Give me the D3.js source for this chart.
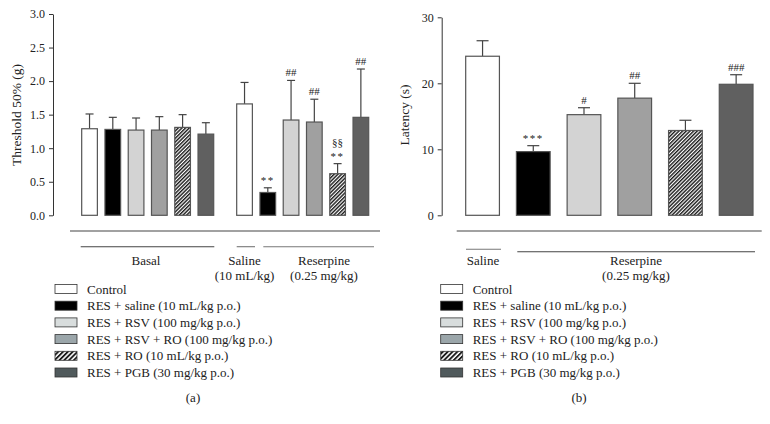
<!DOCTYPE html>
<html><head><meta charset="utf-8">
<script src="https://cdn.jsdelivr.net/npm/d3@7"></script>
<style>body{margin:0;background:#fff}svg{display:block}text{font-family:"Liberation Serif","DejaVu Serif",serif;fill:#222}</style>
</head><body><svg id="c" width="770" height="424"></svg>
<script>
// ---- data ----
const groups = ["Control","RES + saline (10 mL/kg p.o.)","RES + RSV (100 mg/kg p.o.)","RES + RSV + RO (100 mg/kg p.o.)","RES + RO (10 mL/kg p.o.)","RES + PGB (30 mg/kg p.o.)"];
const basalMean = [1.29,1.28,1.27,1.27,1.31,1.21];
const basalErr  = [0.22,0.18,0.18,0.20,0.19,0.17];
const resMeanA  = [1.66,0.34,1.42,1.39,0.62,1.46];
const resErrA   = [0.32,0.07,0.59,0.34,0.15,0.72];
const resSigA   = [[],["**"],["##"],["##"],["**","§§"],["##"]];
const latMean   = [24.1,9.65,15.25,17.75,12.85,19.85];
const latErr    = [2.35,0.9,1.05,2.25,1.55,1.45];
const latSig    = [[],["***"],["#"],["##"],[],["###"]];
const ticksA = [0,0.5,1.0,1.5,2.0,2.5,3.0];
const ticksB = [0,10,20,30];

const barFill = ["#ffffff","#000000","#d3d3d3","#a0a0a0","url(#hatch)","#606060"];
const legFill = ["#ffffff","#000000","#d8dddd","#9ba6aa","url(#hatchL)","#505a5c"];

const svg = d3.select("#c");
const defs = svg.append("defs");
function hatch(id, size){
  const p = defs.append("pattern").attr("id",id).attr("patternUnits","userSpaceOnUse")
    .attr("width",size).attr("height",size).attr("patternTransform","rotate(45)");
  p.append("rect").attr("width",size).attr("height",size).attr("fill","#fff");
  p.append("rect").attr("width",size*0.55).attr("height",size).attr("fill","#1a1a1a");
}
hatch("hatch",2.6); hatch("hatchL",3.4);

const axisCol = "#333";
function drawAxis(x0, y, ticks, fmt){
  const g = svg.append("g").attr("transform",`translate(${x0},0)`)
    .call(d3.axisLeft(y).tickValues(ticks).tickFormat(fmt).tickSize(4).tickSizeOuter(0));
  g.select(".domain").attr("stroke",axisCol);
  g.selectAll(".tick line").attr("stroke",axisCol);
  g.selectAll(".tick text").attr("font-size",12).attr("font-family","Liberation Serif, serif").attr("fill","#222").attr("dx",-1);
}
function drawBars(x, y, means, errs, sigs, capW){
  means.forEach((m,i)=>{
    const bx = x(i), bw = x.bandwidth(), top = y(m), et = y(m+errs[i]);
    svg.append("line").attr("x1",bx+bw/2).attr("x2",bx+bw/2).attr("y1",top).attr("y2",et).attr("stroke","#444").attr("stroke-width",1.2);
    svg.append("line").attr("x1",bx+bw/2-capW/2).attr("x2",bx+bw/2+capW/2).attr("y1",et).attr("y2",et).attr("stroke","#444").attr("stroke-width",1.2);
    svg.append("rect").attr("x",bx).attr("y",top).attr("width",bw).attr("height",y(0)-top)
      .attr("fill",barFill[i]).attr("stroke","#555").attr("stroke-width",1.2);
    (sigs[i]||[]).forEach((s,k)=>{
      svg.append("text").attr("x",bx+bw/2).attr("y",et-4-k*13.5).attr("text-anchor","middle")
        .attr("font-size",11).attr("letter-spacing", s.includes("*")?"1.5px":"0").text(s);
    });
  });
}
function hline(x1,x2,y,col){svg.append("line").attr("x1",x1).attr("x2",x2).attr("y1",y).attr("y2",y).attr("stroke",col||"#444").attr("stroke-width",1.1);}
function label(x,y,t,fs){svg.append("text").attr("x",x).attr("y",y).attr("text-anchor","middle").attr("font-size",fs||13).text(t);}
function legend(bx, tx){
  groups.forEach((g,i)=>{
    const yy = 284.5 + i*16.7;
    svg.append("rect").attr("x",bx).attr("y",yy).attr("width",22).attr("height",9)
      .attr("fill",legFill[i]).attr("stroke","#333").attr("stroke-width",0.8);
    svg.append("text").attr("x",tx).attr("y",yy+9).attr("font-size",13).text(g);
  });
}

// ---- panel (a) ----
const yA = d3.scaleLinear().domain([0,3]).range([215.3,14]);
drawAxis(53, yA, ticksA, d3.format(".1f"));
const idx = d3.range(6);
const xA1 = d3.scaleBand().domain(idx).range([77.9,217.5]).paddingInner(0.326).paddingOuter(0.163);
const xA2 = d3.scaleBand().domain(idx).range([232.9,372.5]).paddingInner(0.326).paddingOuter(0.163);
drawBars(xA1, yA, basalMean, basalErr, [], 8);
drawBars(xA2, yA, resMeanA, resErrA, resSigA, 8);
svg.append("text").attr("transform","translate(21,115) rotate(-90)").attr("text-anchor","middle").attr("font-size",13.5).text("Threshold 50% (g)");
hline(70,380,231);
hline(80.7,214.3,246.7);
hline(236.7,255,246.7,"#777");
hline(263.3,374,246.7,"#777");
label(146,265,"Basal");
label(244.5,265,"Saline");
label(244.5,280,"(10 mL/kg)");
label(324,265,"Reserpine");
label(324,280,"(0.25 mg/kg)");
legend(55,87);
label(193,402,"(a)");

// ---- panel (b) ----
const yB = d3.scaleLinear().domain([0,30]).range([215.3,17.3]);
drawAxis(441.7, yB, ticksB, d3.format("d"));
const xB = d3.scaleBand().domain(idx).range([457.2,761.5]).paddingInner(0.335).paddingOuter(0.1675);
drawBars(xB, yB, latMean, latErr, latSig, 12);
svg.append("text").attr("transform","translate(409,115) rotate(-90)").attr("text-anchor","middle").attr("font-size",13.5).text("Latency (s)");
hline(456.7,761.7,231);
hline(466,501,249.3,"#777");
hline(517.3,755,251.7);
label(483,265,"Saline");
label(636,265,"Reserpine");
label(636,280,"(0.25 mg/kg)");
legend(440.7,472.7);
label(579,402,"(b)");
</script></body></html>
